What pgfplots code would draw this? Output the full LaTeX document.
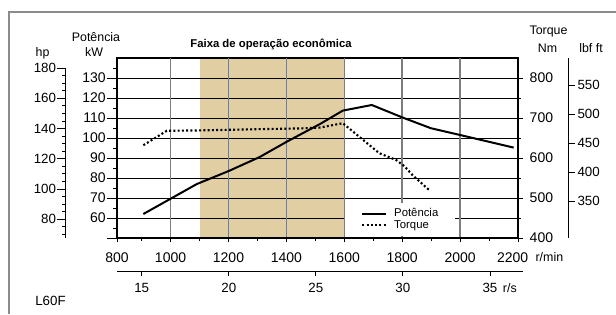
\documentclass[border=0pt]{standalone}
\usepackage{pgfplots}
\pgfplotsset{compat=1.18}
\usepackage{fontspec}
\setmainfont{Liberation Sans}
\definecolor{band}{RGB}{225,206,163}
\definecolor{framec}{RGB}{140,140,140}
\definecolor{vgrid}{RGB}{125,125,125}
\newcommand\tlf{\fontsize{10.5pt}{12pt}\selectfont}
\newcommand\slf{\fontsize{10pt}{12pt}\selectfont}
\newcommand\alf{\fontsize{9.3pt}{11pt}\selectfont}
\begin{document}
\begin{tikzpicture}
\path[use as bounding box] (0,0) rectangle (462pt,235.5pt);
\draw[framec, line width=1.1pt] (6.75pt,0) -- (6.75pt,226.5pt) -- (462pt,226.5pt);
\pgfplotsset{
  myax/.style={scale only axis, width=300.75pt, height=135pt, at={(87.75pt,57pt)}, anchor=south west,
    xmin=815, xmax=2200, /pgf/number format/assume math mode=true,
    tick style={black, line width=0.6pt}},
  tq/.style={black, line width=1.6pt, dash pattern=on 1.5pt off 1.7pt},
}
% band
\begin{axis}[myax, hide axis, ymin=50, ymax=140]
\addplot[fill=band, draw=none] coordinates {(1100,50) (1100,140) (1600,140) (1600,50)} -- cycle;
\end{axis}
% main kW axis
\begin{axis}[myax, ymin=50, ymax=140,
  axis line style={black, line width=0.9pt},
  xtick=\empty,
  extra x ticks={1000,1200,1400,1600,1800,2000},
  extra x tick labels={},
  extra x tick style={grid=major, major grid style={vgrid, line width=1.1pt}, major tick length=0pt},
  ytick={50,60,...,130}, yticklabels={,60,70,80,90,100,110,120,130},
  minor ytick={55,65,...,135},
  ytick pos=left, tick align=outside,
  major tick length=7.5pt, minor tick length=3pt,
  ymajorgrids, major grid style={black, line width=0.55pt},
  yticklabel style={font=\tlf, inner sep=0.8pt},
  legend style={at={(0.5686,0.011)}, anchor=south west, draw=none, fill=white,
    inner xsep=12pt, inner ysep=3.5pt, row sep=0pt,
    font=\fontsize{8.5pt}{10pt}\selectfont, nodes={inner sep=0.6pt},
    /tikz/every odd column/.append style={column sep=4.5pt}},
  legend cell align=left,
  legend image code/.code={\draw[#1] (0pt,0pt) -- (18pt,0pt);},
]
\addplot[black, line width=1.5pt] coordinates {
(906,62) (1091,77) (1201,83.5) (1308,90.5) (1402,98.2) (1515,106.9) (1595,113.7)
(1695,116.5) (1802,110.2) (1899,104.9) (2000,101.5) (2185,95.2)};
\addlegendentry{Potência}
\addlegendimage{tq}
\addlegendentry{Torque}
\end{axis}
% torque Nm axis
\begin{axis}[myax, ymin=400, ymax=850,
  axis x line=none, axis y line*=right,
  axis line style={black, line width=0.9pt},
  ytick={400,500,...,800}, minor ytick={450,550,...,750},
  tick align=outside, major tick length=3.75pt, minor tick length=2.25pt,
  yticklabel style={font=\tlf, xshift=1.5pt},
]
\addplot[tq] coordinates {
(906,632) (987,668) (1100,669) (1300,672) (1450,674) (1515,676) (1595,687)
(1652,653) (1721,612) (1779,595) (1807,580) (1836,557) (1893,520)};
\end{axis}
% rpm ticks
\begin{axis}[myax, ymin=0, ymax=1,
  axis y line=none, axis x line*=bottom,
  axis line style={black, line width=0.9pt},
  xtick={815,1000,1200,1400,1600,1800,2000,2200},
  xticklabels={800,1000,1200,1400,1600,1800,2000,{2200\kern8pt}},
  minor xtick={900,1100,...,2100},
  tick align=outside, major tick length=3pt, minor tick length=2.25pt,
  xticklabel style={font=\tlf, yshift=-4.5pt},
]
\end{axis}
% r/s axis
\begin{axis}[scale only axis, width=304.5pt, height=3pt, at={(87.75pt,31.7pt)}, anchor=south west,
  xmin=13.583, xmax=36.897, ymin=0, ymax=1,
  /pgf/number format/assume math mode=true,
  axis y line=none, axis x line*=bottom,
  axis line style={black, line width=0.9pt},
  tick style={black, line width=0.6pt},
  xtick={15,20,25,30,35},
  tick align=outside, major tick length=3.2pt,
  xticklabel style={font=\slf, yshift=-1.8pt},
]
\end{axis}
% hp axis
\begin{axis}[scale only axis, width=7.5pt, height=127.5pt, at={(49.3pt,57pt)}, anchor=south west,
  xmin=0, xmax=1, ymin=67.6, ymax=180,
  /pgf/number format/assume math mode=true,
  axis x line=none, axis y line*=left,
  axis line style={black, line width=0.9pt},
  tick style={black, line width=0.6pt},
  ytick={80,100,...,180},
  minor ytick={70,75,85,90,95,105,110,115,125,130,135,145,150,155,165,170,175},
  tick align=outside, major tick length=6.75pt, minor tick length=2.5pt,
  yticklabel style={font=\slf, inner sep=0.3pt},
]
\end{axis}
% lbf ft axis
\begin{axis}[scale only axis, width=7.5pt, height=135pt, at={(426.2pt,57pt)}, anchor=south east,
  xmin=0, xmax=1, ymin=286, ymax=597,
  /pgf/number format/assume math mode=true,
  axis x line=none, axis y line*=right,
  axis line style={black, line width=0.9pt},
  tick style={black, line width=0.6pt},
  ytick={350,400,...,550},
  tick align=outside, major tick length=5.25pt,
  yticklabel style={font=\slf, inner sep=1.5pt},
]
\end{axis}
% texts
\node[font=\alf] at (72pt,208pt) {Potência};
\node[font=\alf] at (70.5pt,196.7pt) {kW};
\node[font=\alf] at (31.9pt,195.75pt) {hp};
\node[font=\fontsize{8.5pt}{10pt}\selectfont\bfseries] at (203.25pt,202.5pt) {Faixa de operação econômica};
\node[font=\alf] at (411.4pt,211.5pt) {Torque};
\node[font=\alf] at (410.6pt,199.5pt) {Nm};
\node[font=\alf] at (443.25pt,199.5pt) {lbf ft};
\node[font=\alf, anchor=west, inner sep=0pt] at (401.5pt,42.75pt) {r/min};
\node[font=\alf, anchor=west, inner sep=0pt] at (377pt,19.3pt) {r/s};
\node[font=\slf, anchor=west, inner sep=0pt] at (26.25pt,10pt) {L60F};
\end{tikzpicture}
\end{document}
